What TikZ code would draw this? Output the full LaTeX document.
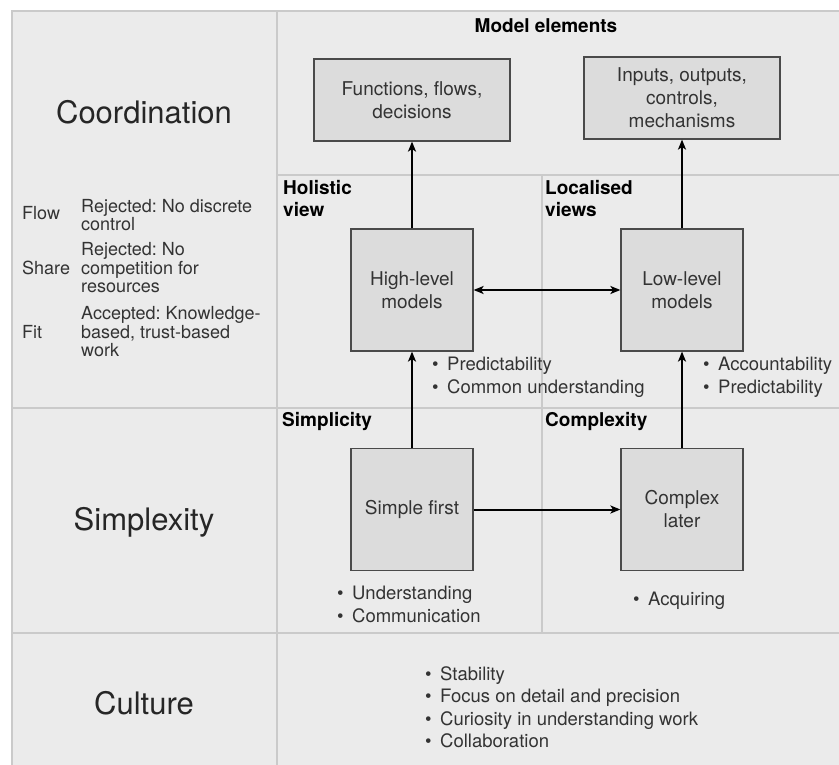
\documentclass[tikz,border=0pt]{standalone}
\usepackage{fontspec}
\setmainfont{TeX Gyre Heros}
\usetikzlibrary{positioning}
\usetikzlibrary{arrows.meta}
\definecolor{cellbg}{HTML}{EBEBEB}
\definecolor{gridln}{HTML}{CACACA}
\definecolor{boxbg}{HTML}{DCDCDC}
\definecolor{boxln}{HTML}{4A4A4A}
\definecolor{txt}{HTML}{333333}
\frenchspacing
\newcommand{\bul}[1]{\makebox[15pt][l]{\textbullet}#1}
\tikzset{
	model box/.style={
		draw=boxln, fill=boxbg, line width=1.2pt,
		inner sep=0pt, align=center, text=txt,
		font=\fontsize{19}{23}\selectfont
	},
	row title/.style={
		text=black!85, font=\fontsize{31}{36}\selectfont
	},
	cell title/.style={
		anchor=west, align=left, inner sep=0pt,
		font=\bfseries\fontsize{19}{22}\selectfont
	},
	side text/.style={
		anchor=west, align=left, inner sep=0pt, text=txt,
		font=\fontsize{18}{18.5}\selectfont
	},
	bullet list/.style={
		anchor=north west, align=left, inner sep=0pt, text=txt,
		font=\fontsize{18.5}{22.5}\selectfont
	},
	link/.style={-{Stealth[length=10pt,width=8pt,inset=2.5pt]}, line width=2pt}
}
\begin{document}
\begin{tikzpicture}[x=1pt, y=-1pt]
			\useasboundingbox (0,0) rectangle (839,765);
			\fill[cellbg] (12,11) rectangle (839,765);
			
			% grid
			\draw[gridln, line width=1.5pt] (12,765) -- (12,11) -- (839,11);
			\draw[gridln, line width=1.5pt] (277,11) -- (277,765);
			\draw[gridln, line width=1.5pt] (12,408) -- (839,408);
			\draw[gridln, line width=1.5pt] (12,633) -- (839,633);
			\draw[gridln, line width=1.5pt] (277,175) -- (839,175);
			\draw[gridln, line width=1.5pt] (542,175) -- (542,633);
			
			\foreach \n/\t/\y in {coord/Coordination/112, simplex/Simplexity/522, cult/Culture/703} {
				\node[row title] (\n) at (144,\y) {\t};
			}
			
			\node[side text] (flow) at (22,213) {Flow};
			\node[side text] (flowtxt) at (81,215) {Rejected: No discrete\\control};
			\node[side text] (share) at (22,268) {Share};
			\node[side text] (sharetxt) at (81,268) {Rejected: No\\competition for\\resources};
			\node[side text] (fit) at (22,332) {Fit};
			\node[side text] (fittxt) at (81,332) {Accepted: Knowledge-\\based, trust-based\\work};
			
			\node[cell title, anchor=center] (elems) at (546,26) {Model elements};
			\node[cell title, anchor=north west] (holi) at (283,180) {Holistic\\view};
			\node[cell title, anchor=north west] (local) at (545,180) {Localised\\views};
			\node[cell title] (simpl) at (282,422) {Simplicity};
			\node[cell title] (compl) at (545,422) {Complexity};
			
			\node[model box, minimum width=196pt, minimum height=82pt] (fun) at (412,100) {Functions, flows,\\decisions};
			\node[model box, minimum width=196pt, minimum height=82pt] (inp) at (682,98) {Inputs, outputs,\\controls,\\mechanisms};
			\node[model box, minimum size=122pt] (hl) at (412,290) {High-level\\models};
			\node[model box, minimum size=122pt] (ll) at (682,290) {Low-level\\models};
			\node[model box, minimum size=122pt] (sf) at (412,509.5) {Simple first};
			\node[model box, minimum size=122pt] (cl) at (682,509.5) {Complex\\later};
			
			\draw[link] (hl) -- (fun);
			\draw[link] (ll) -- (inp);
			\draw[link, {Stealth[length=10pt,width=8pt,inset=2.5pt]}-{Stealth[length=10pt,width=8pt,inset=2.5pt]}] (hl) -- (ll);
			\draw[link] (sf) -- (hl);
			\draw[link] (cl) -- (ll);
			\draw[link] (sf) -- (cl);
			
			\node[bullet list] (hlpts) at (432,357) {\bul{Predictability}\\\bul{Common understanding}};
			\node[bullet list] (llpts) at (703,357) {\bul{Accountability}\\\bul{Predictability}};
			\node[bullet list] (sfpts) at (337,586) {\bul{Understanding}\\\bul{Communication}};
			\node[bullet list] (clpts) at (633,592) {\bul{Acquiring}};
			\node[bullet list] (cultpts) at (425,666) {\bul{Stability}\\\bul{Focus on detail and precision}\\\bul{Curiosity in understanding work}\\\bul{Collaboration}};
		\end{tikzpicture}
\end{document}
